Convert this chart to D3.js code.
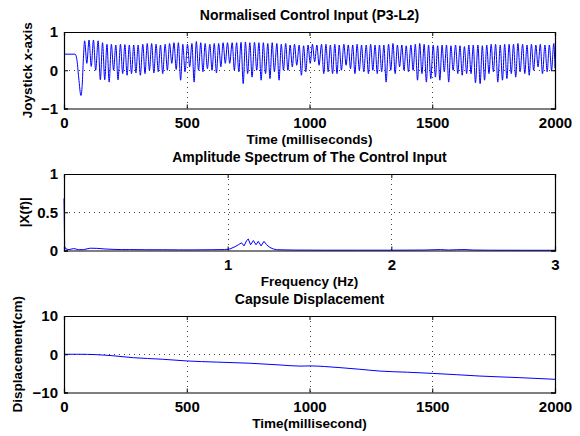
<!DOCTYPE html>
<html>
<head>
<meta charset="utf-8">
<script src="https://cdn.jsdelivr.net/npm/d3@7"></script>
<style>
body { margin: 0; background: #fff; }
text { font-family: "Liberation Sans", Arial, sans-serif; font-weight: bold; fill: #000; }
</style>
</head>
<body>
<script>
var w = 580;
var h = 436;

// --- panel 1: normalised control input (extrema) ---
var startTime = [0, 45, 52, 60, 69, 74, 79];
var startValue = [0.42, 0.42, 0.3, -0.2, -0.66, -0.4, 0.3];

var peakTime = [84, 102, 120, 139, 157, 175, 193, 211, 230, 248, 266, 284, 302, 321, 339, 357, 375, 393, 412, 430,
    448, 466, 484, 503, 521, 539, 557, 575, 594, 612, 630, 648, 666, 685, 703, 721, 739, 757, 776, 794,
    812, 830, 848, 867, 885, 903, 921, 939, 958, 976, 994, 1012, 1030, 1049, 1067, 1085, 1103, 1121, 1140, 1158,
    1176, 1194, 1212, 1231, 1249, 1267, 1285, 1303, 1322, 1340, 1358, 1376, 1394, 1413, 1431, 1449, 1467, 1485, 1504, 1522,
    1540, 1558, 1576, 1595, 1613, 1631, 1649, 1667, 1686, 1704, 1722, 1740, 1758, 1777, 1795, 1813, 1831, 1849, 1868, 1886,
    1904, 1922, 1940, 1959, 1977, 1995];
var peakValue = [0.77, 0.79, 0.79, 0.77, 0.72, 0.68, 0.68, 0.66, 0.68, 0.67, 0.66, 0.66, 0.66, 0.68, 0.70, 0.70, 0.68, 0.66, 0.68, 0.70,
    0.72, 0.72, 0.68, 0.68, 0.70, 0.75, 0.72, 0.70, 0.68, 0.70, 0.70, 0.72, 0.72, 0.72, 0.72, 0.73, 0.74, 0.72, 0.73, 0.72,
    0.72, 0.70, 0.72, 0.70, 0.68, 0.70, 0.66, 0.68, 0.66, 0.64, 0.66, 0.68, 0.66, 0.68, 0.68, 0.66, 0.68, 0.66, 0.68, 0.66,
    0.66, 0.68, 0.66, 0.66, 0.68, 0.66, 0.66, 0.66, 0.68, 0.70, 0.66, 0.66, 0.64, 0.66, 0.68, 0.70, 0.68, 0.66, 0.66, 0.64,
    0.66, 0.66, 0.64, 0.66, 0.64, 0.62, 0.66, 0.66, 0.66, 0.64, 0.66, 0.68, 0.68, 0.66, 0.68, 0.68, 0.68, 0.70, 0.68, 0.66,
    0.68, 0.66, 0.68, 0.66, 0.66, 0.70];

var troughTime = [93, 111, 129, 148, 166, 184, 202, 220, 239, 257, 275, 293, 311, 330, 348, 366, 384, 402, 421, 439,
    457, 475, 493, 512, 530, 548, 566, 584, 603, 621, 639, 657, 675, 694, 712, 730, 748, 766, 785, 803,
    821, 839, 857, 876, 894, 912, 930, 948, 967, 985, 1003, 1021, 1039, 1058, 1076, 1094, 1112, 1130, 1149, 1167,
    1185, 1203, 1221, 1240, 1258, 1276, 1294, 1312, 1331, 1349, 1367, 1385, 1403, 1422, 1440, 1458, 1476, 1494, 1513, 1531,
    1549, 1567, 1585, 1604, 1622, 1640, 1658, 1676, 1695, 1713, 1731, 1749, 1767, 1786, 1804, 1822, 1840, 1858, 1877, 1895,
    1913, 1931, 1949, 1968, 1986, 2000];
var troughValue = [0.18, 0.10, 0.0, -0.25, -0.25, -0.31, 0.0, -0.25, -0.09, -0.13, -0.09, -0.07, -0.13, -0.09, 0.0, -0.07, -0.04, -0.09, 0.0, 0.18,
    0.02, -0.26, -0.04, 0.09, -0.31, 0.0, -0.04, 0.04, 0.0, -0.07, 0.09, 0.18, 0.18, 0.0, -0.04, -0.35, -0.09, -0.18, 0.0, -0.26,
    -0.09, -0.22, -0.04, -0.26, 0.0, 0.0, 0.09, 0.13, -0.13, -0.04, 0.18, 0.22, 0.13, -0.09, -0.04, -0.09, -0.09, 0.0, 0.13, 0.04,
    -0.09, 0.0, -0.04, -0.09, 0.0, -0.09, -0.04, -0.31, 0.0, -0.09, 0.09, 0.0, -0.04, 0.0, -0.26, -0.09, -0.31, -0.22, -0.18, -0.26,
    -0.04, -0.31, 0.0, -0.09, -0.13, -0.09, -0.09, -0.33, -0.35, -0.26, -0.09, -0.04, -0.31, -0.26, -0.22, -0.09, -0.18, -0.04, -0.09, -0.13,
    0.0, 0.09, -0.09, -0.04, 0.0, 0.05];

// --- panel 2: amplitude spectrum ---
var freq = [0, 0.004, 0.012, 0.03, 0.06, 0.09, 0.12, 0.16, 0.2, 0.25, 0.3, 0.35, 0.4, 0.5, 0.6, 0.7, 0.8, 0.9, 0.98, 1.014,
    1.045, 1.065, 1.085, 1.1, 1.116, 1.126, 1.14, 1.157, 1.173, 1.187, 1.204, 1.222, 1.238, 1.258, 1.279, 1.3, 1.4, 1.6, 1.8, 2.0,
    2.2, 2.3, 2.35, 2.4, 2.45, 2.5, 2.6, 2.8, 3.0];
var amp = [0.68, 0.05, 0.02, 0.012, 0.025, 0.01, 0.012, 0.03, 0.028, 0.02, 0.015, 0.012, 0.012, 0.01, 0.01, 0.008, 0.008, 0.01, 0.012, 0.02,
    0.05, 0.075, 0.10, 0.06, 0.13, 0.15, 0.075, 0.13, 0.075, 0.12, 0.06, 0.12, 0.075, 0.04, 0.02, 0.01, 0.006, 0.004, 0.004, 0.004,
    0.006, 0.012, 0.006, 0.01, 0.012, 0.006, 0.004, 0.003, 0.003];

// --- panel 3: capsule displacement ---
var dispTime = [0, 60, 130, 200, 282, 400, 500, 620, 757, 880, 961, 1002, 1060, 1124, 1200, 1287, 1400, 1500, 1600, 1694, 1850, 2000];
var dispValue = [0, 0, -0.1, -0.4, -0.9, -1.3, -1.75, -2.05, -2.35, -2.8, -3.1, -3.05, -3.2, -3.5, -3.9, -4.4, -4.7, -5.0, -5.35, -5.7, -6.1, -6.55];

var titles = ["Normalised Control Input (P3-L2)", "Amplitude Spectrum of The Control Input", "Capsule Displacement"];
var xLabels = ["Time (milliseconds)", "Frequency (Hz)", "Time(millisecond)"];
var yLabels = ["Joystick x-axis", "|X(f)|", "Displacement(cm)"];
var xTicks = [[0, 500, 1000, 1500, 2000], [1, 2, 3], [0, 500, 1000, 1500, 2000]];
var yTicks = [[-1, 0, 1], [0, 0.5, 1], [-10, 0, 10]];
var xDomains = [[0, 2000], [0, 3], [0, 2000]];
var yDomains = [[-1, 1], [0, 1], [-10, 10]];

var plotLeft = 64, plotRight = 555;
var plotTops = [32, 174, 316];
var ph = 76.5;

var inputPts = [];
for (var i = 0; i < startTime.length; i++) inputPts.push([startTime[i], startValue[i]]);
for (var i = 0; i < peakTime.length; i++) inputPts.push([peakTime[i], peakValue[i]]);
for (var i = 0; i < troughTime.length; i++) inputPts.push([troughTime[i], troughValue[i]]);
inputPts.sort(function(a, b) { return a[0] - b[0]; });

var specPts = freq.map(function(f, i) { return [f, amp[i]]; });
var dispPts = dispTime.map(function(t, i) { return [t, dispValue[i]]; });
var series = [inputPts, specPts, dispPts];
var curves = [d3.curveMonotoneX, d3.curveLinear, d3.curveMonotoneX];

var svg = d3.select("body").append("svg")
    .attr("width", w)
    .attr("height", h);

function drawPanel(p) {
    var pTop = plotTops[p];
    var pBottom = pTop + ph;
    var xScale = d3.scaleLinear().domain(xDomains[p]).range([plotLeft, plotRight]);
    var yScale = d3.scaleLinear().domain(yDomains[p]).range([pBottom, pTop]);
    var g = svg.append("g");

    // dotted grid at interior ticks
    g.selectAll(".gx").data(xTicks[p].filter(function(d) { return d > xDomains[p][0] && d < xDomains[p][1]; }))
        .enter().append("line")
        .attr("x1", function(d) { return Math.round(xScale(d)) + 0.5; })
        .attr("x2", function(d) { return Math.round(xScale(d)) + 0.5; })
        .attr("y1", pTop).attr("y2", pBottom)
        .attr("stroke", "#444").attr("stroke-dasharray", "1,4");
    g.selectAll(".gy").data(yTicks[p].filter(function(d) { return d > yDomains[p][0] && d < yDomains[p][1]; }))
        .enter().append("line")
        .attr("y1", function(d) { return Math.round(yScale(d)) + 0.5; })
        .attr("y2", function(d) { return Math.round(yScale(d)) + 0.5; })
        .attr("x1", plotLeft).attr("x2", plotRight)
        .attr("stroke", "#444").attr("stroke-dasharray", "1,4");

    // data line
    var line = d3.line()
        .x(function(d) { return xScale(d[0]); })
        .y(function(d) { return yScale(d[1]); })
        .curve(curves[p]);
    g.append("path")
        .datum(series[p])
        .attr("d", line)
        .attr("fill", "none")
        .attr("stroke", "#0000ff")
        .attr("stroke-width", 1);

    // axes, MATLAB style: ticks pointing inward, box on
    var xAxis = d3.axisBottom(xScale).tickValues(xTicks[p]).tickSize(-4).tickPadding(9).tickFormat(d3.format("~g"));
    var yAxis = d3.axisLeft(yScale).tickValues(yTicks[p]).tickSize(-4).tickPadding(6).tickFormat(d3.format("~g"));
    var xTop = d3.axisTop(xScale).tickValues(xTicks[p]).tickSize(-4).tickFormat("");
    var yRight = d3.axisRight(yScale).tickValues(yTicks[p]).tickSize(-4).tickFormat("");

    var axes = [
        g.append("g").attr("transform", "translate(0," + pBottom + ")").call(xAxis),
        g.append("g").attr("transform", "translate(" + plotLeft + ",0)").call(yAxis),
        g.append("g").attr("transform", "translate(0," + pTop + ")").call(xTop),
        g.append("g").attr("transform", "translate(" + plotRight + ",0)").call(yRight)
    ];
    axes.forEach(function(a) {
        a.selectAll("path").attr("stroke", "#000").attr("stroke-width", 1.2);
        a.selectAll("line").attr("stroke", "#000");
        a.selectAll("text").attr("font-size", "15px").style("font-family", "'Liberation Sans', Arial, sans-serif").attr("font-weight", "bold").attr("fill", "#000");
    });

    // title and labels
    svg.append("text")
        .attr("x", (plotLeft + plotRight) / 2).attr("y", pTop - 12)
        .attr("text-anchor", "middle").attr("font-size", "14px")
        .text(titles[p]);
    svg.append("text")
        .attr("x", (plotLeft + plotRight) / 2).attr("y", pBottom + 35)
        .attr("text-anchor", "middle").attr("font-size", "13.5px")
        .text(xLabels[p]);
    svg.append("text")
        .attr("transform", "translate(" + [32, 29, 22][p] + "," + (pTop + ph / 2) + ") rotate(-90)")
        .attr("text-anchor", "middle").attr("font-size", "13.5px")
        .text(yLabels[p]);
}

for (var p = 0; p < 3; p++) drawPanel(p);
</script>
</body>
</html>
